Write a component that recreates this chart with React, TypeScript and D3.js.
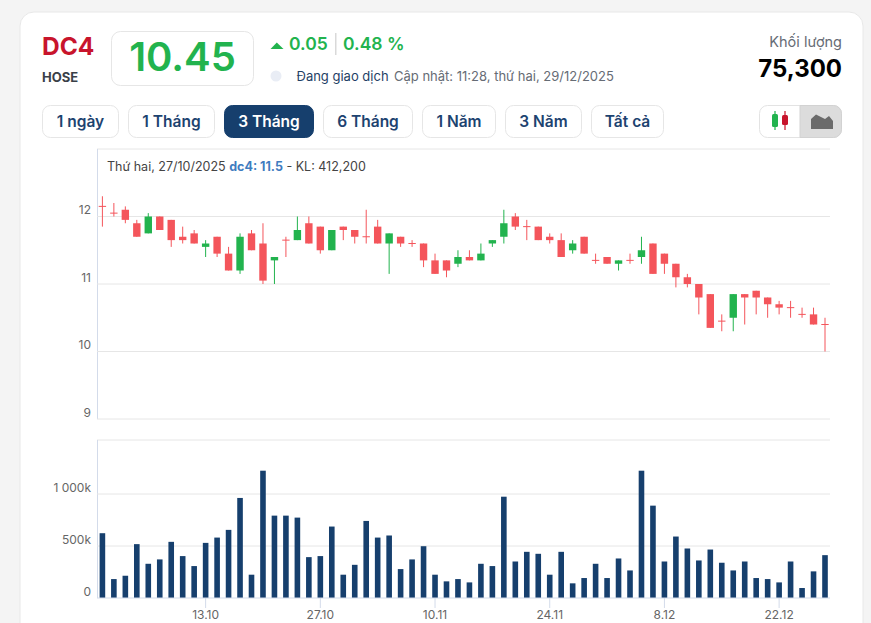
import React from "react";
import * as d3 from "d3";

// [open, close, high, low]
const opens = [12.15,12.05,12.1,11.9,11.75,12.0,11.95,11.7,11.75,11.55,11.7,11.45,11.2,11.75,11.6,11.35,11.65,11.65,11.9,11.85,11.5,
  11.85,11.8,11.7,11.85,11.6,11.7,11.6,11.6,11.35,11.35,11.3,11.4,11.35,11.6,11.7,12.0,11.85,11.85,11.7,11.65,11.5,
  11.7,11.35,11.4,11.3,11.35,11.4,11.6,11.45,11.3,11.1,11.0,10.85,10.45,10.5,10.85,10.9,10.8,10.7,10.65,10.55,10.55,10.4];
const closes = [12.15,12.05,11.95,11.7,12.0,11.8,11.65,11.65,11.6,11.6,11.45,11.2,11.7,11.5,11.05,11.4,11.65,11.8,11.6,11.5,11.8,
  11.8,11.7,11.7,11.6,11.75,11.6,11.6,11.35,11.15,11.2,11.4,11.35,11.45,11.65,11.9,11.85,11.85,11.65,11.65,11.4,11.6,
  11.45,11.35,11.3,11.35,11.35,11.5,11.15,11.3,11.1,11.0,10.8,10.35,10.45,10.85,10.8,10.8,10.7,10.65,10.65,10.55,10.4,10.4];
const highs = [12.3,12.2,12.15,11.95,12.05,12.0,11.95,11.85,11.8,11.65,11.7,11.55,11.75,11.8,11.9,11.4,11.7,12.0,12.0,11.85,11.8,
  11.85,11.8,12.1,11.95,11.75,11.7,11.65,11.6,11.45,11.35,11.5,11.5,11.6,11.65,12.1,12.05,11.95,11.85,11.75,11.75,11.65,
  11.7,11.45,11.4,11.35,11.45,11.7,11.6,11.45,11.3,11.15,11.0,10.85,10.55,10.85,10.85,10.9,10.8,10.75,10.75,10.65,10.65,10.5];
const lows = [11.85,12.0,11.9,11.7,11.75,11.8,11.55,11.6,11.6,11.4,11.4,11.2,11.15,11.5,11.0,11.0,11.4,11.65,11.6,11.45,11.5,
  11.65,11.6,11.6,11.6,11.15,11.55,11.55,11.25,11.15,11.1,11.25,11.35,11.35,11.55,11.6,11.8,11.65,11.65,11.6,11.4,11.45,
  11.45,11.3,11.3,11.2,11.3,11.3,11.15,11.15,10.95,10.95,10.55,10.35,10.3,10.3,10.4,10.55,10.5,10.55,10.5,10.5,10.4,10.0];
const volumes = [623,182,214,518,329,371,540,403,307,530,581,655,962,224,1224,792,792,773,393,403,687,
  224,319,741,581,601,278,371,498,224,160,182,150,329,307,974,351,444,425,224,444,141,192,329,
  192,380,265,1224,888,351,591,476,361,466,339,265,351,192,182,150,351,96,256,412];
const priceTicks = [9, 10, 11, 12];
const volumeTicks = [0, 500, 1000];
const dateTicks: [number, string][] = [[9,"13.10"],[19,"27.10"],[29,"10.11"],[39,"24.11"],[49,"8.12"],[59,"22.12"]];
const ranges = ["1 ngày","1 Tháng","3 Tháng","6 Tháng","1 Năm","3 Năm","Tất cả"];
const rangeEdges: [number, number][] = [[42,119],[128,215],[224,314],[323,413],[422,496],[505,582],[591,664]];

const RED = "#f4555b", GREEN = "#22b34e", NAVY = "#163f6d";
const FONT = "Inter, 'Noto Sans', sans-serif";

export default function App() {
  const x = d3.scaleLinear().domain([0, 63]).range([102.4, 825]);
  const y = d3.scaleLinear().domain([9, 12]).range([419, 216.5]);
  const yv = d3.scaleLinear().domain([0, 1000]).range([598, 494]);
  const barW = 7.4, volW = 5.6;
  return (
    <svg width={871} height={623} viewBox="0 0 871 623" style={{ position: "absolute", left: 0, top: 0, display: "block" }} fontFamily={FONT}>
      <rect width={871} height={623} fill="#f4f4f4" />
      <rect x={20} y={12} width={843} height={660} rx={14} fill="#fff" stroke="#e8e8e8" />

      <text x={42} y={55} fontSize={24.5} fontWeight={700} fill="#c8142c">DC4</text>
      <text x={42} y={82} fontSize={13} fontWeight={700} fill="#3a3f48">HOSE</text>
      <rect x={111.5} y={31.5} width={142} height={54} rx={9} fill="#fff" stroke="#e6e6e6" />
      <text x={182.5} y={71} fontSize={40} fontWeight={600} fill={GREEN} textAnchor="middle">10.45</text>
      <path d="M270.5 49L276.8 42.5L283.5 49Z" fill={GREEN} />
      <text x={289} y={50} fontSize={17.5} fontWeight={600} fill={GREEN}>0.05</text>
      <rect x={335} y={33} width={1.5} height={22} fill="#d9d9d9" />
      <text x={343} y={50} fontSize={17.5} fontWeight={600} fill={GREEN}>0.48 %</text>
      <circle cx={276} cy={76} r={5.5} fill="#e9edf5" />
      <text x={296.5} y={81} fontSize={13} fill="#1f3f66">Đang giao dịch</text>
      <text x={394} y={81} fontSize={13} fill="#666c75">Cập nhật: 11:28, thứ hai, 29/12/2025</text>
      <text x={842} y={47} fontSize={14.5} fill="#666c75" textAnchor="end">Khối lượng</text>
      <text x={842} y={77} fontSize={24} fontWeight={700} fill="#000" textAnchor="end">75,300</text>

      {ranges.map((r, i) => {
        const [a, b] = rangeEdges[i];
        const on = r === "3 Tháng";
        return (
          <g key={r}>
            <rect x={a + 0.5} y={105.5} width={b - a - 1} height={32} rx={8} fill={on ? NAVY : "#fff"} stroke={on ? NAVY : "#e6e6e6"} />
            <text x={(a + b) / 2} y={127} fontSize={15.5} fontWeight={600} fill={on ? "#fff" : "#1d4370"} textAnchor="middle">{r}</text>
          </g>
        );
      })}
      <rect x={759.5} y={105.5} width={82} height={32} rx={8} fill="#fff" stroke="#e3e3e3" />
      <path d="M800 105.5H833.5a8 8 0 0 1 8 8V129.5a8 8 0 0 1 -8 8H800Z" fill="#dcdcdc" stroke="#d2d2d2" />
      <rect x={772} y={114} width={6} height={13} rx={1.5} fill={GREEN} />
      <rect x={774.4} y={111} width={1.2} height={19} fill={GREEN} />
      <rect x={782} y={115} width={6} height={10} rx={1.5} fill="#c8142c" />
      <rect x={784.4} y={111} width={1.2} height={19} fill="#c8142c" />
      <path d="M811 129V119L816 114.5L821 117L825 119L829 116L833 121V129Z" fill="#6b6b6b" />

      <line x1={97} x2={830} y1={149} y2={149} stroke="#e6e6e6" />
      <line x1={97.5} x2={97.5} y1={149} y2={419} stroke="#d3dbea" />
      {priceTicks.map(t => (
        <g key={t}>
          <line x1={97} x2={830} y1={y(t)} y2={y(t)} stroke="#e6e6e6" />
          <text x={91} y={y(t) - 2.5} fontSize={12} fill="#666" textAnchor="end">{t}</text>
        </g>
      ))}
      <text x={107} y={171} fontSize={12.5} fill="#444">
        Thứ hai, 27/10/2025 <tspan fontWeight={700} fill="#3f7cc0">dc4: 11.5</tspan> - KL: 412,200
      </text>

      {opens.map((o, i) => {
        const c = closes[i];
        const col = c > o ? GREEN : RED;
        const top = y(Math.max(o, c)), bot = y(Math.min(o, c));
        const doji = o === c;
        return (
          <g key={i}>
            <line x1={x(i)} x2={x(i)} y1={y(highs[i])} y2={y(lows[i])} stroke={col} strokeWidth={1} />
            {doji
              ? <line x1={x(i) - barW / 2} x2={x(i) + barW / 2} y1={top} y2={top} stroke={col} strokeWidth={1} />
              : <rect x={x(i) - barW / 2} y={top} width={barW} height={bot - top} fill={col} />}
          </g>
        );
      })}

      <line x1={97} x2={830} y1={440} y2={440} stroke="#e6e6e6" />
      <line x1={97.5} x2={97.5} y1={440} y2={598} stroke="#d3dbea" />
      {volumeTicks.map(t => (
        <g key={t}>
          {t > 0 && <line x1={97} x2={830} y1={yv(t)} y2={yv(t)} stroke="#e6e6e6" />}
          <text x={91} y={yv(t) - 2} fontSize={12} fill="#666" textAnchor="end">{t === 0 ? "0" : t === 1000 ? "1 000k" : t + "k"}</text>
        </g>
      ))}
      {volumes.map((v, i) => (
        <rect key={i} x={x(i) - volW / 2} y={yv(v)} width={volW} height={598 - yv(v)} fill={NAVY} />
      ))}
      <line x1={97} x2={830} y1={598} y2={598} stroke="#d3dbea" />
      {dateTicks.map(([i, s]) => (
        <g key={s}>
          <line x1={x(i)} x2={x(i)} y1={598} y2={608} stroke="#d3dbea" />
          <text x={x(i)} y={619} fontSize={12} fill="#666" textAnchor="middle">{s}</text>
        </g>
      ))}
    </svg>
  );
}
